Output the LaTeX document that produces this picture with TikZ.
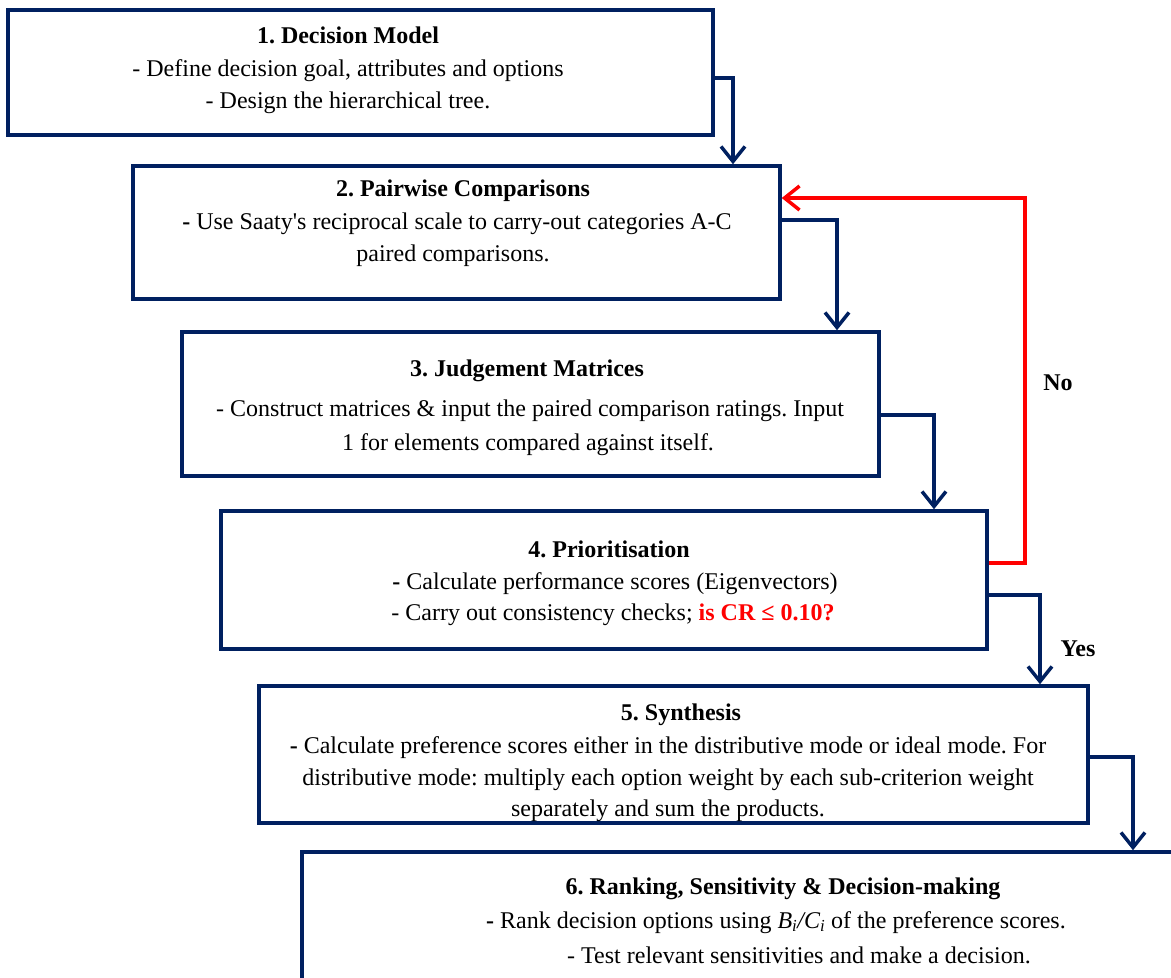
\documentclass[tikz,border=0pt]{standalone}
\usepackage{fontspec}
\setmainfont{Liberation Serif}
\usetikzlibrary{arrows.meta}
\definecolor{navy}{RGB}{0,32,96}
\definecolor{alarm}{RGB}{255,0,0}
\begin{document}
\frenchspacing
\begin{tikzpicture}[x=1pt,y=-1pt,
  box/.style={draw=navy, line width=3.5pt, rectangle, inner sep=0pt},
  txt/.style={anchor=base, inner sep=0pt, font=\fontsize{24}{28}\selectfont},
  ttl/.style={txt, font=\fontsize{24}{28}\selectfont\bfseries},
  flow/.style={draw=navy, line width=3.5pt, -{Straight Barb[length=15pt,width=24pt]}},
  back/.style={flow, draw=alarm}]
\useasboundingbox (0,0) rectangle (1171,978);
\clip (0,0) rectangle (1171,978);

% process boxes
\node[box, minimum width=705pt, minimum height=125pt] (b1) at (360.5,72.5) {};
\node[box, minimum width=647pt, minimum height=133pt] (b2) at (456.5,232.5) {};
\node[box, minimum width=697pt, minimum height=144pt] (b3) at (530.5,404) {};
\node[box, minimum width=766pt, minimum height=138pt] (b4) at (604,580) {};
\node[box, minimum width=829pt, minimum height=137pt] (b5) at (673.5,754.5) {};
\node[box, minimum width=962pt, minimum height=160pt] (b6) at (783,932) {};

% box texts
\node[ttl] (t1a) at (348,43) {1. Decision Model};
\node[txt] (t1b) at (348,76) {- Define decision goal, attributes and options};
\node[txt] (t1c) at (348,108) {- Design the hierarchical tree.};

\node[ttl] (t2a) at (463,196) {2. Pairwise Comparisons};
\node[txt] (t2b) at (457,229) {\textbf{-} Use Saaty\textquotesingle s reciprocal scale to carry-out categories A-C};
\node[txt] (t2c) at (453,261) {paired comparisons.};

\node[ttl] (t3a) at (527,376) {3. Judgement Matrices};
\node[txt] (t3b) at (530,416) {- Construct matrices \& input the paired comparison ratings. Input};
\node[txt] (t3c) at (528,450) {1 for elements compared against itself.};

\node[ttl] (t4a) at (609,557) {4. Prioritisation};
\node[txt] (t4b) at (615,589) {\textbf{-} Calculate performance scores (Eigenvectors)};
\node[txt] (t4c) at (613,620) {- Carry out consistency checks; \textcolor{alarm}{\textbf{is CR ≤ 0.10?}}};

\node[ttl] (t5a) at (681,720) {5. Synthesis};
\node[txt] (t5b) at (668,753) {\textbf{-} Calculate preference scores either in the distributive mode or ideal mode. For};
\node[txt] (t5c) at (668,785) {distributive mode: multiply each option weight by each sub-criterion weight};
\node[txt] (t5d) at (668,816) {separately and sum the products.};

\node[ttl] (t6a) at (783,894) {6. Ranking, Sensitivity \& Decision-making};
\node[txt] (t6b) at (776,928) {\textbf{-} Rank decision options using \textit{B\textsubscript{i}/C\textsubscript{i}} of the preference scores.};
\node[txt] (t6c) at (799,963) {- Test relevant sensitivities and make a decision.};

% branch labels
\node[ttl] (no) at (1058,390) {No};
\node[ttl] (yes) at (1078,656) {Yes};

% connectors
\draw[flow] (b1.east |- 0,78) -| (733,0 |- b2.north);
\draw[flow] (b2.east |- 0,220) -| (837,0 |- b3.north);
\draw[flow] (b3.east |- 0,415) -| (934,0 |- b4.north);
\draw[flow] (b4.east |- 0,595) -| (1040,0 |- b5.north);
\draw[flow] (b5.east |- 0,757) -| (1133,0 |- b6.north);
\draw[back] (b4.east |- 0,563) -| (1025,198) -- (b2.east |- 0,198);
\end{tikzpicture}
\end{document}
